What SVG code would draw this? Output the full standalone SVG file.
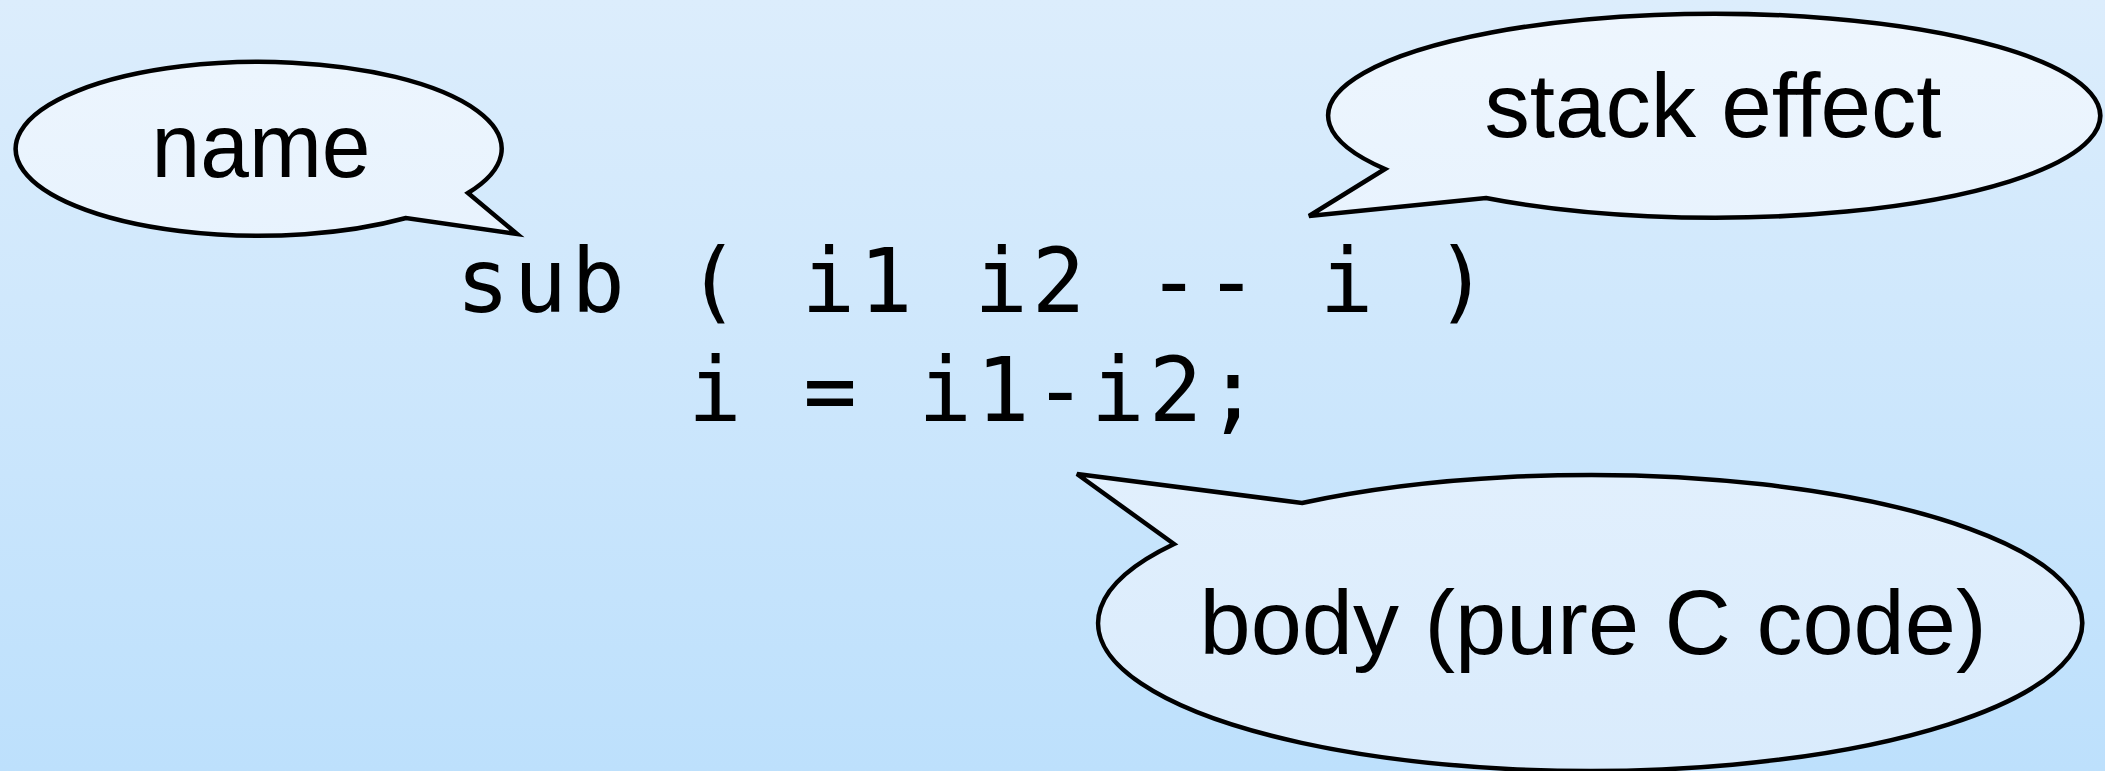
<svg xmlns="http://www.w3.org/2000/svg" width="2105" height="771" viewBox="0 0 2105 771">
  <defs>
    <linearGradient id="bg" x1="0" y1="0" x2="0" y2="771" gradientUnits="userSpaceOnUse">
      <stop offset="0" stop-color="#dcedfc"/>
      <stop offset="1" stop-color="#bde0fc"/>
    </linearGradient>
    <linearGradient id="bub" x1="0" y1="0" x2="0" y2="771" gradientUnits="userSpaceOnUse">
      <stop offset="0" stop-color="#eef6fe"/>
      <stop offset="1" stop-color="#d9ebfc"/>
    </linearGradient>
  </defs>
  <style>
    .bubble { fill: url(#bub); stroke: #000; stroke-width: 4.5; stroke-linejoin: miter; }
    .label { font-family: "Liberation Sans", Arial, sans-serif; font-size: 90px; fill: #000; text-anchor: middle; }
    .code { font-family: "DejaVu Sans Mono", "Liberation Mono", monospace; font-size: 89px; letter-spacing: 4px; fill: #000; white-space: pre; }
  </style>
  <rect x="0" y="0" width="2105" height="771" fill="url(#bg)"/>

  <g id="code">
    <text class="code" x="456" y="312" xml:space="preserve">sub ( i1 i2 -- i )</text>
    <text class="code" x="688" y="421" xml:space="preserve">i = i1-i2;</text>
  </g>

  <g id="name">
    <path class="bubble" d="M 468,193 L 517,234 L 406,218 A 243 87 0 1 1 468,193 Z"/>
    <text class="label" x="261" y="177" textLength="219" lengthAdjust="spacingAndGlyphs">name</text>
  </g>

  <g id="stack-effect">
    <path class="bubble" d="M 1385,169 L 1309,216 L 1486,198 A 386 102 0 1 0 1385,169 Z"/>
    <text class="label" x="1713" y="137" textLength="457" lengthAdjust="spacingAndGlyphs">stack effect</text>
  </g>

  <g id="body">
    <path class="bubble" d="M 1174,544 L 1077,474 L 1302,503 A 492 148 0 1 1 1174,544 Z"/>
    <text class="label" x="1593" y="654" textLength="787" lengthAdjust="spacingAndGlyphs">body (pure C code)</text>
  </g>

  <g id="connectors"></g>
</svg>
